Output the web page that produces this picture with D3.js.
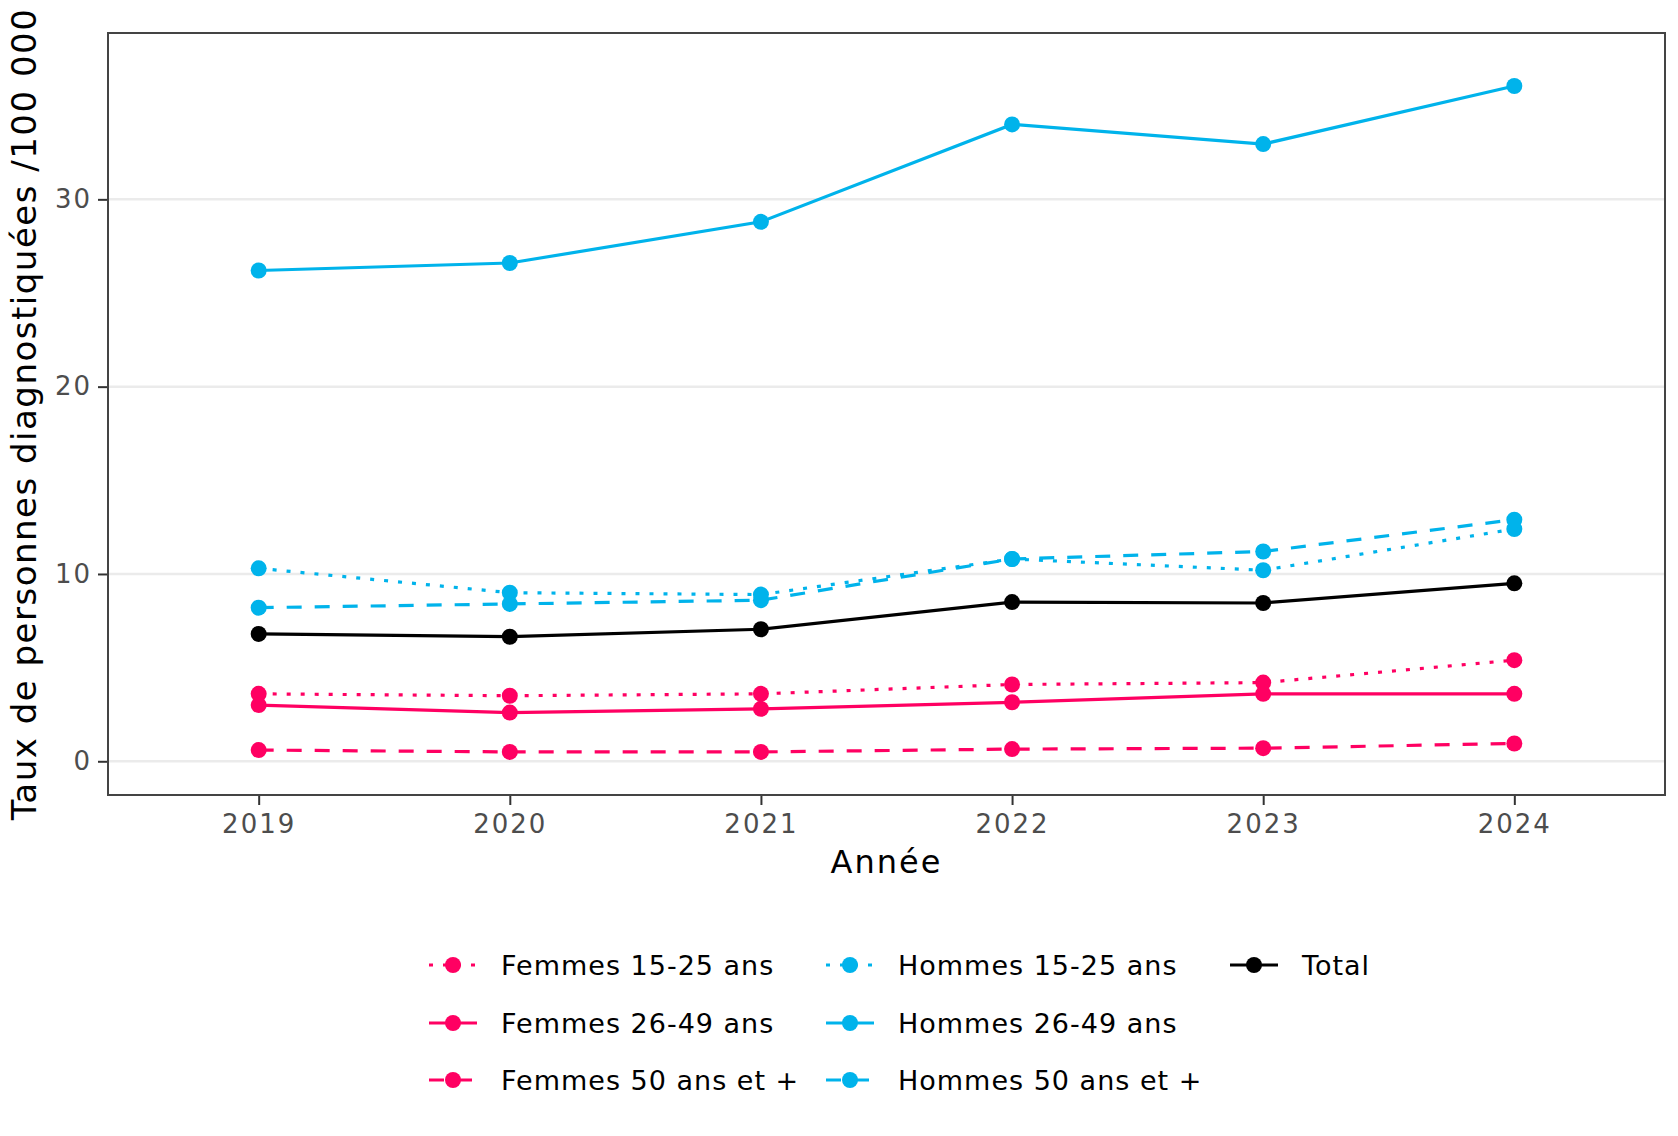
<!DOCTYPE html>
<html>
<head>
<meta charset="utf-8">
<script src="https://cdn.jsdelivr.net/npm/d3@7"></script>
<style>
  body { margin: 0; background: #fff; }
  text { font-family: "DejaVu Sans", sans-serif; }
</style>
</head>
<body>
<script>
// data
const years = [2019, 2020, 2021, 2022, 2023, 2024];
const yTicks = [0, 10, 20, 30];
const seriesNames = ["Femmes 15-25 ans", "Femmes 26-49 ans", "Femmes 50 ans et +",
                     "Hommes 15-25 ans", "Hommes 26-49 ans", "Hommes 50 ans et +", "Total"];
const femmes15 = [3.6, 3.5, 3.6, 4.1, 4.2, 5.4];
const femmes26 = [3.0, 2.6, 2.8, 3.15, 3.6, 3.6];
const femmes50 = [0.6, 0.5, 0.5, 0.65, 0.7, 0.95];
const hommes15 = [10.3, 9.0, 8.9, 10.8, 10.2, 12.4];
const hommes26 = [26.2, 26.6, 28.8, 34.0, 32.95, 36.05];
const hommes50 = [8.2, 8.4, 8.6, 10.8, 11.2, 12.9];
const total = [6.8, 6.65, 7.05, 8.5, 8.45, 9.5];

const pink = "#ff0062", blue = "#00b3eb";
const dotted = "4,10", dashed = "15,13";

const series = [
  { name: seriesNames[0], values: femmes15, color: pink, dash: dotted },
  { name: seriesNames[1], values: femmes26, color: pink, dash: null },
  { name: seriesNames[2], values: femmes50, color: pink, dash: dashed },
  { name: seriesNames[3], values: hommes15, color: blue, dash: dotted },
  { name: seriesNames[4], values: hommes26, color: blue, dash: null },
  { name: seriesNames[5], values: hommes50, color: blue, dash: dashed },
  { name: seriesNames[6], values: total, color: "#000", dash: null }
];

const W = 1678, H = 1136;
const pLeft = 108, pRight = 1665, pTop = 33, pBottom = 795;

const svg = d3.select("body").append("svg").attr("width", W).attr("height", H);

const x = d3.scaleLinear().domain([2018.4, 2024.6]).range([pLeft, pRight]);
const y = d3.scaleLinear().domain([-1.8, 38.88]).range([pBottom, pTop]);

// grid
svg.append("g").selectAll("line")
  .data(yTicks).enter().append("line")
  .attr("x1", pLeft).attr("x2", pRight)
  .attr("y1", d => y(d)).attr("y2", d => y(d))
  .attr("stroke", "#ebebeb").attr("stroke-width", 2.5);

// axes
const yAxis = svg.append("g").attr("transform", `translate(${pLeft},0)`)
  .call(d3.axisLeft(y).tickValues(yTicks).tickSize(10).tickPadding(6));
const xAxis = svg.append("g").attr("transform", `translate(0,${pBottom})`)
  .call(d3.axisBottom(x).tickValues(years).tickFormat(d3.format("d")).tickSize(10).tickPadding(10));
[yAxis, xAxis].forEach(a => {
  a.select(".domain").remove();
  a.selectAll(".tick line").attr("stroke", "#333").attr("stroke-width", 2);
  a.selectAll(".tick text").attr("fill", "#4d4d4d")
    .style("font-size", "26px").style("letter-spacing", "2px");
});

// lines then points
const line = d3.line().x((d, i) => x(years[i])).y(d => y(d));
svg.append("g").selectAll("path")
  .data(series).enter().append("path")
  .attr("d", d => line(d.values))
  .attr("fill", "none")
  .attr("stroke", d => d.color)
  .attr("stroke-width", 3.2)
  .attr("stroke-dasharray", d => d.dash);

series.forEach(s => {
  svg.append("g").selectAll("circle")
    .data(s.values).enter().append("circle")
    .attr("cx", (d, i) => x(years[i]))
    .attr("cy", d => y(d))
    .attr("r", 8)
    .attr("fill", s.color);
});

// panel border
svg.append("rect")
  .attr("x", pLeft).attr("y", pTop)
  .attr("width", pRight - pLeft).attr("height", pBottom - pTop)
  .attr("fill", "none").attr("stroke", "#444").attr("stroke-width", 2);

// axis titles
svg.append("text")
  .attr("transform", `translate(36,${(pTop + pBottom) / 2}) rotate(-90)`)
  .attr("text-anchor", "middle")
  .style("font-size", "34px").style("letter-spacing", "1.5px")
  .text("Taux de personnes diagnostiquées /100 000");

svg.append("text")
  .attr("x", (pLeft + pRight) / 2).attr("y", 873)
  .attr("text-anchor", "middle")
  .style("font-size", "32px").style("letter-spacing", "2px")
  .text("Année");

// legend
const colX = [429, 826, 1230];
const rowY = [965, 1023, 1080];
const legend = svg.append("g").selectAll("g")
  .data(series).enter().append("g")
  .attr("transform", (d, i) => `translate(${colX[Math.floor(i / 3)]},${rowY[i % 3]})`);
legend.append("line")
  .attr("x1", 0).attr("x2", 48)
  .attr("stroke", d => d.color).attr("stroke-width", 3.2)
  .attr("stroke-dasharray", d => d.dash);
legend.append("circle")
  .attr("cx", 24).attr("r", 8).attr("fill", d => d.color);
legend.append("text")
  .attr("x", 72).attr("dy", "0.36em")
  .style("font-size", "27px").style("letter-spacing", "1px")
  .text(d => d.name);
</script>
</body>
</html>
